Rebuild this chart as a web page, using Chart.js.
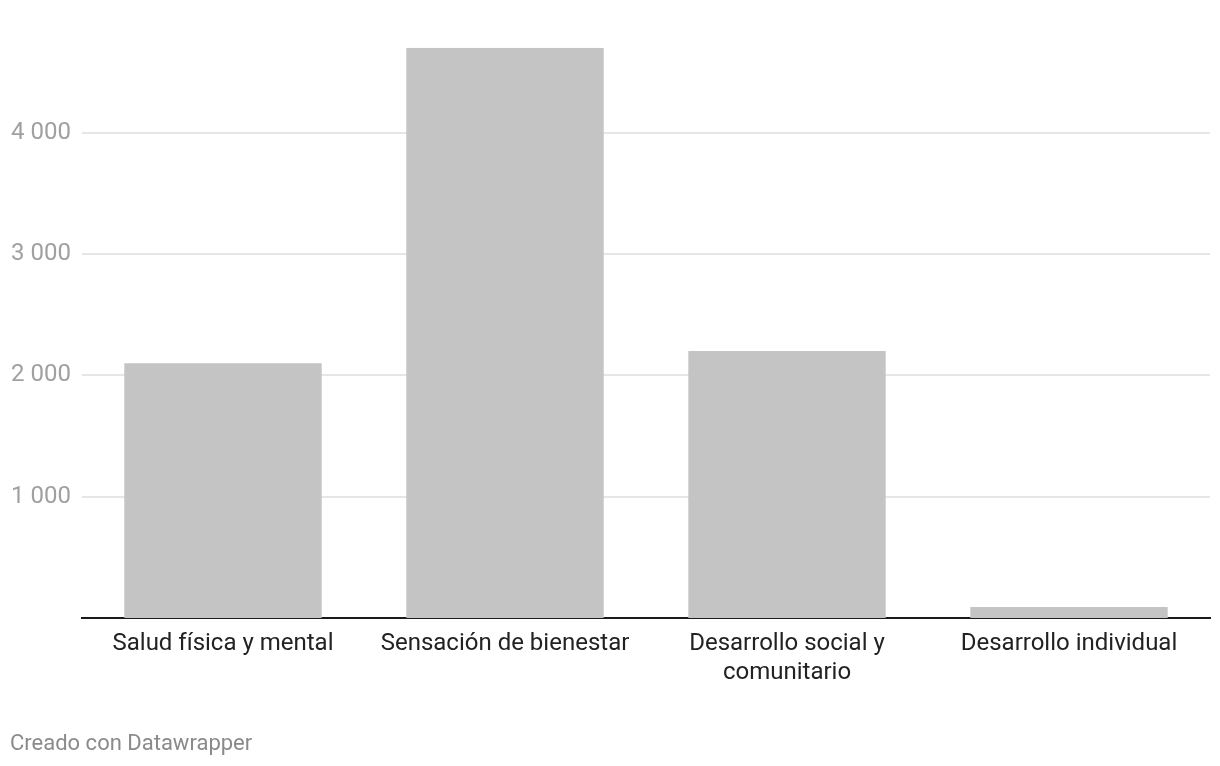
<!DOCTYPE html>
<html>
<head>
<meta charset="utf-8">
<script src="https://cdn.jsdelivr.net/npm/chart.js@4.4.1/dist/chart.umd.min.js"></script>
<style>
  html, body { margin: 0; padding: 0; background: #ffffff; }
  #wrap { position: relative; width: 1220px; height: 766px; }
  #c { position: absolute; left: 0; top: 0; }
  #footer { position: absolute; left: 10px; top: 730px; font-family: Roboto, sans-serif; font-size: 22px; color: #8a8a8a; line-height: 26px; }
</style>
</head>
<body>
<div id="wrap">
  <canvas id="c" width="1220" height="766"></canvas>
  <div id="footer">Creado con Datawrapper</div>
</div>
<script>
const categories = [
  "Salud física y mental",
  "Sensación de bienestar",
  ["Desarrollo social y", "comunitario"],
  "Desarrollo individual"
];
const values = [2100, 4700, 2200, 90];
const yTicks = [1000, 2000, 3000, 4000];
const yMax = 4700;

function fmt(v) {
  return String(v).replace(/\B(?=(\d{3})+(?!\d))/g, " ");
}

new Chart(document.getElementById("c"), {
  type: "bar",
  data: {
    labels: categories,
    datasets: [{
      data: values,
      backgroundColor: "#c4c4c4",
      borderWidth: 0,
      barPercentage: 0.7,
      categoryPercentage: 1.0
    }]
  },
  options: {
    responsive: false,
    animation: false,
    layout: { padding: { left: 11, right: 10, top: 47.7, bottom: 48 } },
    plugins: { legend: { display: false }, tooltip: { enabled: false } },
    scales: {
      x: {
        grid: { display: false, drawTicks: false },
        border: { display: true, color: "#1a1a1a", width: 2 },
        ticks: {
          color: "#222222",
          font: { family: "Roboto", size: 24 },
          padding: 12,
          maxRotation: 0,
          autoSkip: false
        },
        afterFit: (s) => { s.height = 100; }
      },
      y: {
        min: 0,
        max: yMax,
        grid: { color: "#e6e6e6", lineWidth: 2, drawTicks: false },
        border: { display: false },
        afterBuildTicks: (s) => { s.ticks = yTicks.map(v => ({ value: v })); },
        afterFit: (s) => { s.width = 71; },
        ticks: {
          crossAlign: "far",
          color: "#a0a0a0",
          font: { family: "Roboto", size: 24 },
          callback: (v) => fmt(v)
        }
      }
    }
  }
});
</script>
</body>
</html>
